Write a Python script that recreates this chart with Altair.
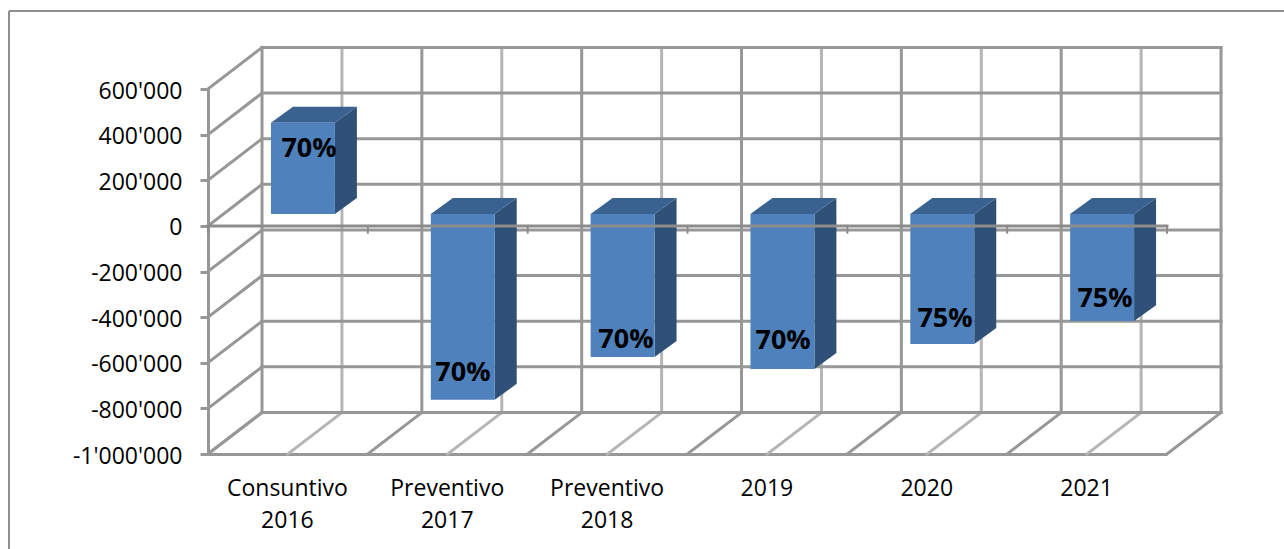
import json

import altair as alt
import pandas as pd

# Chart values
categories = ["Consuntivo 2016", "Preventivo 2017", "Preventivo 2018", "2019", "2020", "2021"]
values = [400000, -815000, -627000, -680000, -570000, -470000]
labels = ["70%", "70%", "70%", "70%", "75%", "75%"]
label_x = [0.632, 1.595, 2.615, 3.598, 4.611, 5.612]
label_level = [346000, -636000, -491000, -495000, -399000, -311000]
y_ticks = [600000, 400000, 200000, 0, -200000, -400000, -600000, -800000, -1000000]

# Oblique projection of the 3D box, in data units
WALL_DX = 0.338
WALL_DY = 182000
BAR_LEFT = 0.394
BAR_WIDTH = 0.4
BAR_PLANE_DY = 52600
BAR_DX = 0.1376
BAR_DY = 70000
N = len(categories)
Y_MIN, Y_MAX = -1000000, 600000

GRID = "#979797"
GRID_LIGHT = "#b5b5b5"
FONT = "Open Sans"

x_scale = alt.Scale(domain=[0, N], range=[208, 1167])
y_scale = alt.Scale(domain=[Y_MIN, Y_MAX], range=[454, 89])

cat_expr = "split(" + json.dumps(categories) + "[floor(datum.value)], ' ')"
x_axis = alt.Axis(
    orient="bottom",
    offset=-95,
    values=[0.5 + i for i in range(N)],
    labelExpr=cat_expr,
    title=None,
    grid=False,
    ticks=False,
    domainColor=GRID,
    domainWidth=3,
    labelPadding=23,
    labelOffset=-1,
    labelFont=FONT,
    labelFontSize=23,
    labelColor="#000000",
    labelLineHeight=32,
    labelOverlap=False,
    labelFlush=False,
)
# Thousands are grouped with an apostrophe and negatives use a plain hyphen
y_label_expr = (
    "replace(replace(format(datum.value, ','), regexp(',', 'g'), \"'\"), '\u2212', '-')"
)
y_axis = alt.Axis(
    orient="left",
    offset=-208,
    values=y_ticks,
    labelExpr=y_label_expr,
    title=None,
    grid=False,
    tickColor=GRID,
    tickWidth=3,
    tickSize=8,
    domainColor=GRID,
    domainWidth=3,
    labelPadding=18,
    labelOffset=2,
    labelFont=FONT,
    labelFontSize=23,
    labelColor="#000000",
    labelOverlap=False,
    labelFlush=False,
)
X = alt.X("x:Q", scale=x_scale, axis=x_axis)
Y = alt.Y("y:Q", scale=y_scale, axis=y_axis)


def segments(pairs):
    rows = []
    for i, ((x0, y0), (x1, y1)) in enumerate(pairs):
        rows.append({"seg": i, "x": x0, "y": y0})
        rows.append({"seg": i, "x": x1, "y": y1})
    return pd.DataFrame(rows)


def line_layer(pairs, color, width=3):
    return (
        alt.Chart(segments(pairs))
        .mark_line(color=color, strokeWidth=width, clip=False, strokeCap="square")
        .encode(x=X, y=Y, detail="seg:N")
    )


# Light half-category lines on the back wall and the floor
light_lines = [
    ((i + 0.5 + WALL_DX, Y_MIN + WALL_DY), (i + 0.5 + WALL_DX, Y_MAX + WALL_DY)) for i in range(N)
] + [((i + 0.5, Y_MIN), (i + 0.5 + WALL_DX, Y_MIN + WALL_DY)) for i in range(N)]

# Darker wall lines: back wall rows and columns, side wall and floor diagonals
dark_lines = (
    [((WALL_DX, v + WALL_DY), (N + WALL_DX, v + WALL_DY)) for v in y_ticks]
    + [((i + WALL_DX, Y_MIN + WALL_DY), (i + WALL_DX, Y_MAX + WALL_DY)) for i in range(N + 1)]
    + [((0, v), (WALL_DX, v + WALL_DY)) for v in y_ticks]
    + [((i, Y_MIN), (i + WALL_DX, Y_MIN + WALL_DY)) for i in range(N + 1)]
)

# Bar faces
front, side, top = [], [], []
for i, (cat, v) in enumerate(zip(categories, values)):
    upper = max(v, 0) + BAR_PLANE_DY
    lower = min(v, 0) + BAR_PLANE_DY
    x0 = i + BAR_LEFT
    x1 = x0 + BAR_WIDTH
    front.append({"cat": cat, "x": x0, "x2": x1, "y": lower, "y2": upper})
    side.append({"cat": cat, "x": x1, "y": lower, "y2": upper})
    side.append({"cat": cat, "x": x1 + BAR_DX, "y": lower + BAR_DY, "y2": upper + BAR_DY})
    top.append({"cat": cat, "x": x0, "x2": x1, "y": upper})
    top.append({"cat": cat, "x": x0 + BAR_DX, "x2": x1 + BAR_DX, "y": upper + BAR_DY})

front_layer = (
    alt.Chart(pd.DataFrame(front))
    .mark_rect(color="#4f81bd", clip=False)
    .encode(x=X, x2="x2:Q", y=Y, y2="y2:Q")
)
side_layer = (
    alt.Chart(pd.DataFrame(side))
    .mark_area(color="#2f5177", clip=False)
    .encode(x=X, y=Y, y2="y2:Q", detail="cat:N")
)
top_layer = (
    alt.Chart(pd.DataFrame(top))
    .mark_area(color="#3a6291", orient="horizontal", clip=False)
    .encode(x=X, x2="x2:Q", y=Y, detail="cat:N")
)

# Zero line and its category ticks, in front of the bars
zero_line = line_layer([((0, 0), (N, 0))], "#8c8c8c")
zero_ticks = line_layer([((i, 0), (i, -30000)) for i in range(N + 1)], "#8c8c8c", 2)

value_labels = (
    alt.Chart(pd.DataFrame({"x": label_x, "y": label_level, "t": labels}))
    .mark_text(font=FONT, fontSize=27, fontWeight="bold", color="#000000", clip=False, dy=2)
    .encode(x=X, y=Y, text="t:N")
)

# Outer chart frame: top and left edges
frame_left = alt.Chart(pd.DataFrame({"a": [0]})).mark_rule(color="#8f8f8f", strokeWidth=2).encode(
    x=alt.value(9), y=alt.value(11), y2=alt.value(549)
)
frame_top = alt.Chart(pd.DataFrame({"a": [0]})).mark_rule(color="#8f8f8f", strokeWidth=2).encode(
    y=alt.value(11), x=alt.value(9), x2=alt.value(1284)
)

chart = (
    alt.layer(
        frame_left,
        frame_top,
        line_layer(light_lines, GRID_LIGHT),
        line_layer(dark_lines, GRID),
        side_layer,
        top_layer,
        front_layer,
        zero_line,
        zero_ticks,
        value_labels,
    )
    .properties(
        width=1284,
        height=549,
        padding=0,
        background="#ffffff",
        autosize=alt.AutoSizeParams(type="none"),
    )
    .configure_view(stroke=None)
)

chart.save("out.html", embed_options={"renderer": "svg", "actions": False})
